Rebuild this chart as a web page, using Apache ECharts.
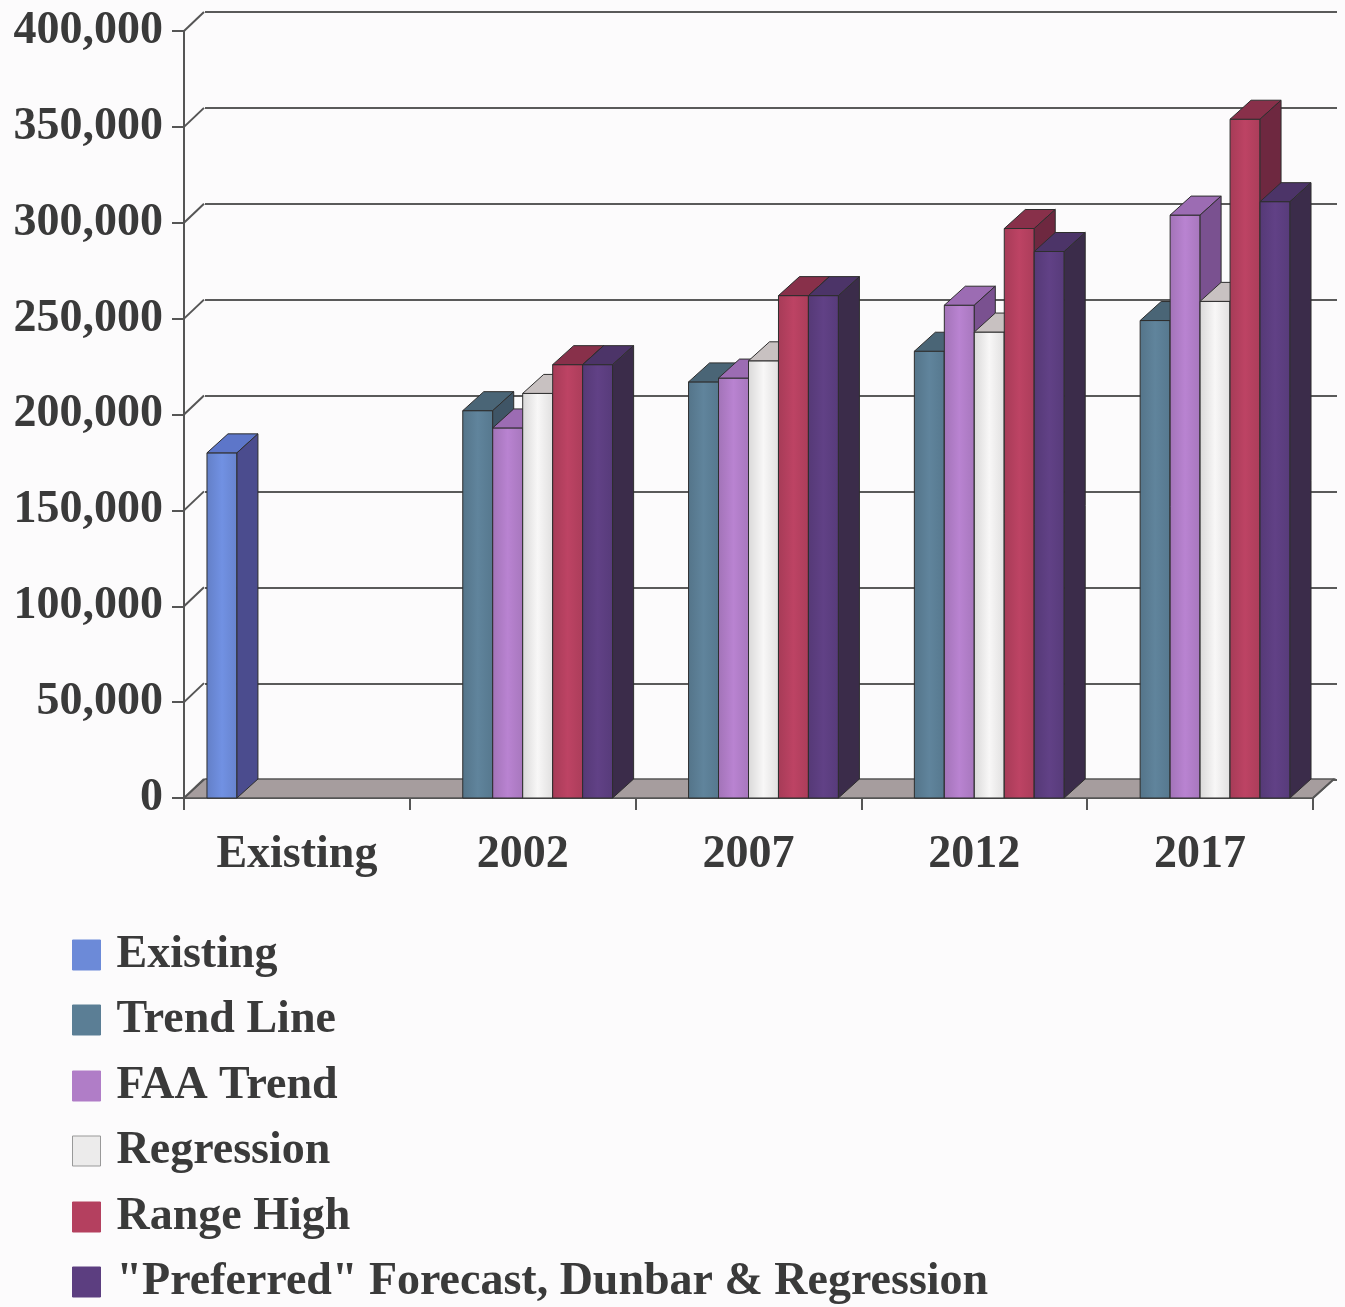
<!DOCTYPE html>
<html><head><meta charset="utf-8">
<script src="https://cdn.jsdelivr.net/npm/echarts@6/dist/echarts.min.js"></script>
<style>html,body{margin:0;padding:0;background:#fcfbfc;} #c{width:1345px;height:1307px;}</style>
</head><body><div id="c"></div>
<script>
// ---- data ----
const categories = ['Existing', '2002', '2007', '2012', '2017'];
const seriesNames = ['Existing', 'Trend Line', 'FAA Trend', 'Regression', 'Range High', '"Preferred" Forecast, Dunbar & Regression'];
const existing   = [180000, null, null, null, null];
const trendLine  = [null, 202000, 217000, 233000, 249000];
const faaTrend   = [null, 193000, 219000, 257000, 304000];
const regression = [null, 211000, 228000, 243000, 259000];
const rangeHigh  = [null, 226000, 262000, 297000, 354000];
const preferred  = [null, 226000, 262000, 285000, 311000];
const yTicks = [0, 50000, 100000, 150000, 200000, 250000, 300000, 350000, 400000];

// ---- styles ----
const FONT = "'Liberation Serif','Times New Roman',serif";
const TXT = '#3a3a3a';
const DX = 21, DY = -19;
const palette = [
  {front: '#6c8ad8', top: '#5d76c9', side: '#4b4c8e'},
  {front: '#5b7e95', top: '#4a6576', side: '#3f5566'},
  {front: '#b07dc7', top: '#9c6cb3', side: '#7a5190'},
  {front: '#ecebeb', top: '#c8c1c1', side: '#d6d3d3'},
  {front: '#b4405f', top: '#88304a', side: '#6e2840'},
  {front: '#5c3e80', top: '#4c3468', side: '#3b2c4a'}
];
const allData = [existing, trendLine, faaTrend, regression, rangeHigh, preferred];
const fmt = v => String(v).replace(/\B(?=(\d{3})+(?!\d))/g, ',');

function shade(hex, f) {
  const n = parseInt(hex.slice(1), 16);
  let r = (n >> 16) & 255, g = (n >> 8) & 255, b = n & 255;
  r = Math.min(255, Math.round(r * f)); g = Math.min(255, Math.round(g * f)); b = Math.min(255, Math.round(b * f));
  return 'rgb(' + r + ',' + g + ',' + b + ')';
}

function barSeries(idx) {
  const pal = palette[idx];
  const data = [];
  allData[idx].forEach((v, i) => { if (v != null) data.push([i, v]); });
  return {
    type: 'custom', name: seriesNames[idx], xAxisIndex: 0, yAxisIndex: 0, z: 3,
    itemStyle: {color: pal.front},
    encode: {x: 0, y: 1},
    data: data,
    renderItem: function (params, api) {
      const cat = api.value(0), v = api.value(1);
      const top = api.coord([cat, v]);
      const base = api.coord([cat, 0]);
      const bw = api.size([1, 0])[0];
      const w = bw * 30 / 226;
      const x0 = top[0] - 3 * w + idx * w;
      const y1 = top[1], y0 = base[1];
      const stroke = '#2e2e2e';
      return {
        type: 'group',
        children: [
          {type: 'rect', shape: {x: x0, y: y1, width: w, height: y0 - y1},
            style: {fill: new echarts.graphic.LinearGradient(0, 0, 1, 0, [
              {offset: 0, color: shade(pal.front, 0.92)},
              {offset: 0.5, color: shade(pal.front, 1.05)},
              {offset: 1, color: shade(pal.front, 0.95)}]), stroke: stroke, lineWidth: 1}},
          {type: 'polygon', shape: {points: [[x0, y1], [x0 + w, y1], [x0 + w + DX, y1 + DY], [x0 + DX, y1 + DY]]},
            style: {fill: pal.top, stroke: stroke, lineWidth: 1}},
          {type: 'polygon', shape: {points: [[x0 + w, y1], [x0 + w + DX, y1 + DY], [x0 + w + DX, y0 + DY], [x0 + w, y0]]},
            style: {fill: pal.side, stroke: stroke, lineWidth: 1}}
        ]
      };
    }
  };
}

// walls: floor + diagonal connectors from the front value axis to the back wall
const wallSeries = {
  type: 'custom', name: '_walls', xAxisIndex: 0, yAxisIndex: 0, z: 1, silent: true,
  encode: {y: 0},
  data: yTicks.map(v => [v]),
  renderItem: function (params, api) {
    const v = api.value(0);
    const cs = params.coordSys;
    const p = api.coord([0, v]);
    const y = p[1];
    const x = cs.x;
    const children = [];
    if (v === 0) {
      const xr = cs.x + cs.width;
      children.push({type: 'polygon', shape: {points: [[x, y], [xr, y], [xr + DX, y + DY], [x + DX, y + DY]]},
        style: {fill: '#a69d9e', stroke: '#555', lineWidth: 1.5}});
      children.push({type: 'line', shape: {x1: xr, y1: y, x2: xr + DX, y2: y + DY}, style: {stroke: '#555', lineWidth: 2}});
    }
    children.push({type: 'line', shape: {x1: x, y1: y, x2: x + DX - 1, y2: y + DY}, style: {stroke: '#555', lineWidth: 2}});
    return {type: 'group', children: children};
  }
};

const chart = echarts.init(document.getElementById('c'), null, {renderer: 'canvas'});
const legendRowCenters = [955, 1020, 1086, 1151, 1217, 1282];
const legends = seriesNames.map((n, i) => ({
  orient: 'vertical', left: 72, top: legendRowCenters[i] - 23, padding: 0,
  itemWidth: 28, itemHeight: 30, icon: 'rect',
  data: [{name: n, itemStyle: {color: palette[i].front, borderColor: i === 3 ? '#999' : palette[i].front, borderWidth: 1}}],
  textStyle: {fontSize: 46, fontWeight: 'bold', fontFamily: FONT, color: TXT, padding: [0, 0, 0, 11]}
}));

chart.setOption({
  backgroundColor: '#fcfbfc',
  animation: false,
  grid: [
    {left: 184, right: 32, top: 31, bottom: 509},
    {left: 205, right: 8, top: 12, bottom: 527}
  ],
  xAxis: [
    {type: 'category', gridIndex: 0, data: categories,
      axisLine: {show: true, lineStyle: {color: '#555', width: 2}},
      axisTick: {show: true, length: 12, interval: 0, alignWithLabel: false, lineStyle: {color: '#555', width: 2}},
      axisLabel: {margin: 34, fontSize: 46, fontWeight: 'bold', fontFamily: FONT, color: TXT, interval: 0},
      splitLine: {show: false}},
    {type: 'category', gridIndex: 1, data: categories, show: false}
  ],
  yAxis: [
    {type: 'value', gridIndex: 0, min: 0, max: 400000, interval: 50000,
      axisLine: {show: true, lineStyle: {color: '#555', width: 2}},
      axisTick: {show: true, length: 12, lineStyle: {color: '#555', width: 2}},
      axisLabel: {margin: 21, fontSize: 46, fontWeight: 'bold', fontFamily: FONT, color: TXT, formatter: fmt},
      splitLine: {show: false}},
    {type: 'value', gridIndex: 1, min: 0, max: 400000, interval: 50000,
      axisLine: {show: false}, axisTick: {show: false}, axisLabel: {show: false},
      splitLine: {show: true, lineStyle: {color: '#5a5a5a', width: 2}}}
  ],
  legend: legends,
  series: [wallSeries].concat(seriesNames.map((n, i) => barSeries(i)))
});
</script>
</body></html>
